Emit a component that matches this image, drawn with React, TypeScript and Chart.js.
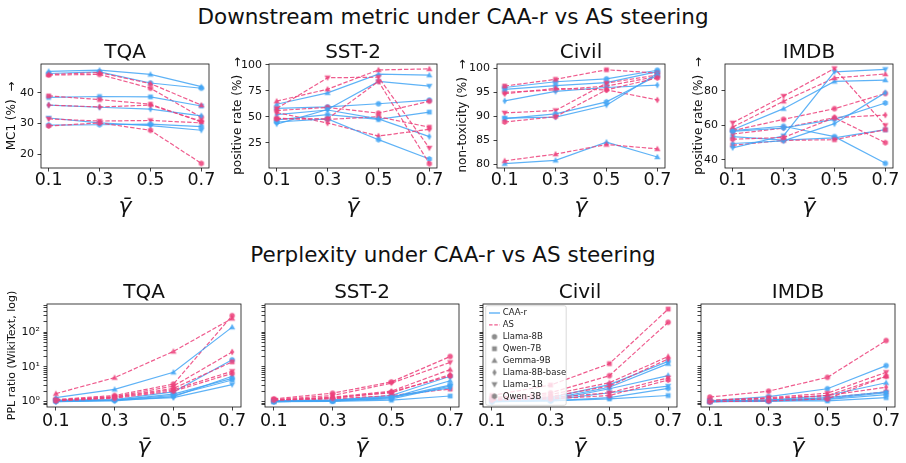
import React, { useEffect, useRef } from 'react';
import { Chart, registerables } from 'chart.js';

Chart.register(...registerables);

const FONT = 'DejaVu Sans';

// ---------- shared categories ----------
const GAMMA = [0.1, 0.3, 0.5, 0.7];
const MODELS = ['Llama-8B', 'Qwen-7B', 'Gemma-9B', 'Llama-8B-base', 'Llama-1B', 'Qwen-3B'];
const MARKERS = ['o', 's', '^', 'd', 'v', 'h'];
const METHODS = ['CAA-r', 'AS'];

// ---------- downstream metric (rows follow MODELS) ----------
const tqaMetricCAA = [
  [46.3, 46.8, 43.2, 41.5],
  [38.5, 38.8, 38.7, 35.7],
  [47.0, 47.4, 46.0, 42.0],
  [36.0, 35.3, 34.7, 32.5],
  [31.8, 30.2, 29.3, 27.8],
  [29.5, 29.6, 29.8, 29.0],
];
const tqaMetricAS = [
  [45.8, 46.0, 41.5, 32.0],
  [39.0, 37.8, 36.3, 30.5],
  [46.0, 46.6, 43.0, 36.0],
  [36.0, 35.4, 36.0, 30.8],
  [31.5, 30.8, 31.0, 30.2],
  [29.2, 30.2, 27.8, 17.0],
];
const sstMetricCAA = [
  [58, 59.5, 62.5, 66],
  [47, 52, 47.5, 54.5],
  [62, 73, 91, 90],
  [52, 56.5, 48, 31],
  [43, 57, 84, 79.5],
  [45, 48, 28, 9.5],
];
const sstMetricAS = [
  [56, 59, 53.5, 65],
  [48.5, 47.5, 50, 40],
  [65, 76.5, 95, 96],
  [54, 44, 31.5, 38],
  [58, 87.5, 88, 20],
  [48, 48, 84, 5],
];
const civilMetricCAA = [
  [96.0, 97.2, 97.8, 99.6],
  [95.6, 96.4, 97.0, 99.3],
  [80.1, 80.8, 84.6, 81.5],
  [93.2, 95.2, 96.0, 96.5],
  [89.6, 89.8, 92.3, 98.9],
  [89.5, 90.5, 93.0, 98.5],
];
const civilMetricAS = [
  [95.0, 95.5, 96.3, 98.3],
  [96.3, 97.7, 99.7, 99.0],
  [80.7, 82.1, 84.1, 83.2],
  [94.7, 95.8, 95.5, 93.4],
  [90.7, 91.2, 96.9, 98.6],
  [88.8, 89.9, 95.5, 98.0],
];
const imdbMetricCAA = [
  [57, 59.5, 53.5, 38],
  [53.5, 51.5, 52.8, 57.5],
  [57.5, 69.7, 85.5, 86.3],
  [49.5, 51, 61, 79],
  [47, 54, 91, 92.5],
  [56.5, 58.5, 63.5, 73],
];
const imdbMetricAS = [
  [57, 63.5, 69.7, 78.5],
  [48.5, 51.3, 51.7, 57.5],
  [59, 74, 87.5, 89.8],
  [55, 58.5, 64.5, 66],
  [61.5, 77, 93, 60],
  [52, 53, 64.5, 50],
];

// ---------- perplexity ratio (rows follow MODELS) ----------
const tqaPplCAA = [
  [1.1, 1.15, 1.9, 16],
  [1.05, 1.1, 1.5, 4.2],
  [1.3, 2.25, 7.0, 140],
  [1.0, 1.05, 1.4, 5.4],
  [1.05, 1.1, 1.3, 3.1],
  [1.0, 1.1, 1.65, 4.7],
];
const tqaPplAS = [
  [1.15, 1.5, 3.2, 300],
  [1.1, 1.35, 2.4, 14],
  [1.7, 4.9, 28, 250],
  [1.1, 1.4, 2.8, 27],
  [1.1, 1.3, 2.2, 7.5],
  [1.05, 1.25, 2.0, 6.5],
];
const sstPplCAA = [
  [1.05, 1.1, 1.5, 5.4],
  [1.0, 1.02, 1.1, 1.45],
  [1.0, 1.05, 1.3, 4.0],
  [1.05, 1.1, 1.4, 2.5],
  [1.0, 1.05, 1.2, 2.8],
  [1.0, 1.05, 1.3, 3.0],
];
const sstPplAS = [
  [1.2, 1.75, 3.7, 20],
  [1.05, 1.2, 1.5, 2.3],
  [1.1, 1.35, 2.0, 8.4],
  [1.1, 1.3, 1.8, 6.0],
  [1.15, 1.5, 3.4, 13.5],
  [1.1, 1.25, 1.9, 5.5],
];
const civilPplCAA = [
  [1.1, 1.3, 3.1, 14.5],
  [1.0, 1.05, 1.2, 1.5],
  [1.05, 1.2, 2.6, 12.4],
  [1.0, 1.1, 2.35, 5.6],
  [1.0, 1.1, 1.8, 2.8],
  [1.0, 1.05, 1.3, 2.4],
];
const civilPplAS = [
  [1.3, 1.8, 5.6, 193],
  [1.5, 3.0, 12.4, 463],
  [1.2, 1.6, 3.5, 20],
  [1.15, 1.4, 2.8, 17],
  [1.1, 1.3, 1.8, 4.85],
  [1.1, 1.2, 1.5, 4.2],
];
const imdbPplCAA = [
  [1.05, 1.4, 2.35, 10.9],
  [1.0, 1.05, 1.05, 1.3],
  [1.0, 1.1, 1.5, 3.5],
  [1.0, 1.05, 1.3, 1.9],
  [1.05, 1.1, 1.2, 1.8],
  [1.0, 1.02, 1.15, 1.6],
];
const imdbPplAS = [
  [1.35, 2.0, 5.0, 57.5],
  [1.0, 1.1, 1.3, 1.9],
  [1.05, 1.25, 1.5, 5.4],
  [1.05, 1.2, 1.5, 2.6],
  [1.1, 1.3, 1.75, 7.0],
  [1.0, 1.05, 1.2, 5.4],
];

// ---------- tick values ----------
const tqaYTicks = [20, 30, 40];
const sstYTicks = [25, 50, 75, 100];
const civilYTicks = [80, 85, 90, 95, 100];
const imdbYTicks = [40, 60, 80];
const pplMajorTicks = [1, 10, 100];
const pplMajorLabels = ['10⁰', '10¹', '10²'];
const pplMinorTicks = [0.8, 0.9, 2, 3, 4, 5, 6, 7, 8, 9, 20, 30, 40, 50, 60, 70, 80, 90, 200, 300, 400, 500, 600];

// ---------- styles ----------
const CAA_COL = 'rgba(66,165,245,0.85)';
const AS_COL = 'rgba(236,64,122,0.85)';
const GRAY = 'rgba(128,128,128,0.9)';
const INK = '#111';

const markerCache = new Map<string, HTMLCanvasElement>();
function marker(shape: string, color: string): HTMLCanvasElement {
  const key = shape + color;
  const hit = markerCache.get(key);
  if (hit) return hit;
  const c = document.createElement('canvas');
  c.width = 10;
  c.height = 10;
  const g = c.getContext('2d')!;
  g.fillStyle = color;
  g.beginPath();
  const cx = 5, cy = 5;
  if (shape === 'o') g.arc(cx, cy, 2.7, 0, Math.PI * 2);
  else if (shape === 's') g.rect(cx - 2.4, cy - 2.4, 4.8, 4.8);
  else if (shape === '^') { g.moveTo(cx, cy - 3.3); g.lineTo(cx + 3.1, cy + 2.2); g.lineTo(cx - 3.1, cy + 2.2); }
  else if (shape === 'v') { g.moveTo(cx, cy + 3.3); g.lineTo(cx + 3.1, cy - 2.2); g.lineTo(cx - 3.1, cy - 2.2); }
  else if (shape === 'd') { g.moveTo(cx, cy - 3.4); g.lineTo(cx + 2.1, cy); g.lineTo(cx, cy + 3.4); g.lineTo(cx - 2.1, cy); }
  else if (shape === 'h') {
    for (let k = 0; k < 6; k++) {
      const a = -Math.PI / 2 + (k * Math.PI) / 3;
      const px = cx + 3 * Math.cos(a), py = cy + 3 * Math.sin(a);
      if (k === 0) g.moveTo(px, py); else g.lineTo(px, py);
    }
  }
  g.closePath();
  g.fill();
  markerCache.set(key, c);
  return c;
}

const framePlugin = {
  id: 'frame',
  afterDatasetsDraw(chart: any) {
    const { ctx, chartArea: a } = chart;
    ctx.save();
    ctx.strokeStyle = INK;
    ctx.lineWidth = 0.8;
    ctx.strokeRect(a.left, a.top, a.right - a.left, a.bottom - a.top);
    ctx.restore();
  },
};

const legendPlugin = {
  id: 'mplLegend',
  afterDatasetsDraw(chart: any) {
    const { ctx, chartArea: a } = chart;
    const x0 = a.left + 2.7, y0 = a.top + 1.7, w = 80.5, h = a.bottom - a.top - 3.4;
    ctx.save();
    ctx.beginPath();
    if (ctx.roundRect) ctx.roundRect(x0, y0, w, h, 2); else ctx.rect(x0, y0, w, h);
    ctx.fillStyle = 'rgba(255,255,255,0.8)';
    ctx.fill();
    ctx.strokeStyle = 'rgba(204,204,204,0.9)';
    ctx.lineWidth = 0.8;
    ctx.stroke();
    const entries: { label: string; kind: string; col?: string; dash?: number[]; shape?: string }[] = [
      { label: METHODS[0], kind: 'line', col: CAA_COL, dash: [] },
      { label: METHODS[1], kind: 'line', col: AS_COL, dash: [3.5, 1.8] },
      ...MODELS.map((m, i) => ({ label: m, kind: 'marker', shape: MARKERS[i] })),
    ];
    entries.forEach((e, i) => {
      const cy = y0 + 7.3 + i * 11.9;
      const hx0 = x0 + 3.3, hx1 = x0 + 14.3;
      if (e.kind === 'line') {
        ctx.beginPath();
        ctx.setLineDash(e.dash!);
        ctx.strokeStyle = e.col!;
        ctx.lineWidth = 1.4;
        ctx.moveTo(hx0, cy);
        ctx.lineTo(hx1, cy);
        ctx.stroke();
        ctx.setLineDash([]);
      } else {
        const m = marker(e.shape!, GRAY);
        ctx.drawImage(m, (hx0 + hx1) / 2 - m.width / 2, cy - m.height / 2);
      }
      ctx.fillStyle = '#222';
      ctx.font = `8.5px "${FONT}"`;
      ctx.textBaseline = 'middle';
      ctx.textAlign = 'left';
      ctx.fillText(e.label, x0 + 17, cy);
    });
    ctx.restore();
  },
};

type PanelCfg = {
  title: string;
  left: number; top: number; width: number; height: number;
  axisW: number; padR: number; xH: number; xTickPad: number;
  log: boolean; yMin: number; yMax: number;
  yTicks: number[]; yLabel: (v: number) => string;
  yTitle: string | null; yTitleSize: number; yTitlePad: number;
  caa: number[][]; as: number[][]; legend: boolean;
};

const TOP_LEFTS = [41, 269, 497, 725];
const BOT_LEFTS = [47, 265, 483, 701];
const TOP_TITLE_PADS = [7.8, 5.3, 2.8, 10.8];

const topPanel = (i: number, title: string, yMin: number, yMax: number, yTicks: number[], yTitle: string, caa: number[][], as: number[][]): PanelCfg => ({
  title, left: TOP_LEFTS[i] - 44, top: 42, width: 224, height: 178,
  axisW: 44, padR: 12, xH: 52, xTickPad: 0,
  log: false, yMin, yMax, yTicks, yLabel: (v) => String(v),
  yTitle, yTitleSize: 12, yTitlePad: TOP_TITLE_PADS[i],
  caa, as, legend: false,
});

const pplTicks = [...pplMajorTicks, ...pplMinorTicks];
const pplLabel = (v: number) => {
  const k = pplMajorTicks.indexOf(v);
  return k >= 0 ? pplMajorLabels[k] : '';
};

const botPanel = (i: number, title: string, caa: number[][], as: number[][]): PanelCfg => ({
  title, left: BOT_LEFTS[i] - 44, top: 282, width: 249, height: 178,
  axisW: 44, padR: 11, xH: 53, xTickPad: 1.75,
  log: true, yMin: 0.72, yMax: 650, yTicks: pplTicks,
  yLabel: i === 0 ? pplLabel : () => '',
  yTitle: i === 0 ? 'PPL ratio (WikiText, log)' : null, yTitleSize: 11, yTitlePad: 2.4,
  caa, as, legend: i === 2,
});

// The y titles are drawn rotated a quarter turn, so "→" shows as an upward arrow.
const PANELS: PanelCfg[] = [
  topPanel(0, 'TQA', 15.5, 49.4, tqaYTicks, 'MC1 (%)  →', tqaMetricCAA, tqaMetricAS),
  topPanel(1, 'SST-2', 0.8, 100.7, sstYTicks, 'positive rate (%)  →', sstMetricCAA, sstMetricAS),
  topPanel(2, 'Civil', 79.2, 100.9, civilYTicks, 'non-toxicity (%)  →', civilMetricCAA, civilMetricAS),
  topPanel(3, 'IMDB', 35.3, 95.6, imdbYTicks, 'positive rate (%)  →', imdbMetricCAA, imdbMetricAS),
  botPanel(0, 'TQA', tqaPplCAA, tqaPplAS),
  botPanel(1, 'SST-2', sstPplCAA, sstPplAS),
  botPanel(2, 'Civil', civilPplCAA, civilPplAS),
  botPanel(3, 'IMDB', imdbPplCAA, imdbPplAS),
];

function Panel({ cfg }: { cfg: PanelCfg }) {
  const ref = useRef<HTMLCanvasElement>(null);
  useEffect(() => {
    const datasets: any[] = [];
    MODELS.forEach((m, i) => {
      [cfg.caa[i], cfg.as[i]].forEach((vals, k) => {
        const col = k === 0 ? CAA_COL : AS_COL;
        datasets.push({
          label: `${METHODS[k]} ${m}`,
          data: GAMMA.map((g, j) => ({ x: g, y: vals[j] })),
          borderColor: col,
          backgroundColor: col,
          borderWidth: 1.2,
          borderDash: k === 0 ? [] : [4.4, 1.9],
          pointStyle: marker(MARKERS[i], col),
          pointRadius: 3,
          pointHoverRadius: 3,
          tension: 0,
          fill: false,
          order: 100 - datasets.length,
        });
      });
    });
    const tickGrid = {
      display: true, drawOnChartArea: false, drawTicks: true,
      tickLength: 3.5, tickColor: INK, tickWidth: 0.8,
    };
    const chart = new Chart(ref.current!, {
      type: 'line',
      data: { datasets },
      options: {
        animation: false,
        responsive: false,
        events: [],
        layout: { padding: { left: 0, right: cfg.padR, top: 0, bottom: 0 } },
        plugins: {
          legend: { display: false },
          tooltip: { enabled: false },
          title: {
            display: true, text: cfg.title, color: INK, fullSize: false,
            font: { family: FONT, size: 20, weight: 'normal', lineHeight: 1 },
            padding: { top: 1, bottom: 1 },
          },
        },
        scales: {
          x: {
            type: 'linear', min: 0.07, max: 0.73,
            afterBuildTicks: (s: any) => { s.ticks = GAMMA.map((v) => ({ value: v })); },
            ticks: {
              autoSkip: false, maxRotation: 0, padding: cfg.xTickPad, color: INK,
              font: { family: FONT, size: 17.5, lineHeight: 1 },
              callback: (v: any) => Number(v).toFixed(1),
            },
            grid: tickGrid as any,
            border: { display: false },
            title: {
              display: true, text: 'γ̄', color: INK,
              font: { family: FONT, size: 22, style: 'italic', lineHeight: 1.2 },
              padding: { top: 0, bottom: 0 },
            },
            afterFit: (s: any) => { s.height = cfg.xH; },
          },
          y: {
            type: cfg.log ? 'logarithmic' : 'linear', min: cfg.yMin, max: cfg.yMax,
            afterBuildTicks: (s: any) => { s.ticks = cfg.yTicks.map((v) => ({ value: v })); },
            ticks: {
              autoSkip: false, padding: 3.5, color: INK,
              font: { family: FONT, size: 11, lineHeight: 1.2 },
              callback: (v: any) => cfg.yLabel(Number(v)),
            },
            grid: tickGrid as any,
            border: { display: false },
            title: cfg.yTitle
              ? {
                  display: true, text: cfg.yTitle, color: INK,
                  font: { family: FONT, size: cfg.yTitleSize, lineHeight: 1.2 },
                  padding: { top: cfg.yTitlePad, bottom: 0 },
                }
              : { display: false },
            afterFit: (s: any) => { s.width = cfg.axisW; },
          },
        },
      } as any,
      plugins: cfg.legend ? [framePlugin, legendPlugin] : [framePlugin],
    });
    return () => chart.destroy();
  }, [cfg]);
  return (
    <div style={{ position: 'absolute', left: cfg.left, top: cfg.top, width: cfg.width, height: cfg.height }}>
      <canvas ref={ref} width={cfg.width} height={cfg.height} style={{ width: cfg.width, height: cfg.height, display: 'block' }} />
    </div>
  );
}

const SUPTITLES = ['Downstream metric under CAA-r vs AS steering', 'Perplexity under CAA-r vs AS steering'];
const SUPTITLE_TOPS = [5.7, 243.7];

export default function App() {
  useEffect(() => {
    document.body.style.margin = '0';
  }, []);
  return (
    <div style={{ position: 'absolute', left: 0, top: 0, width: 906, height: 463, overflow: 'hidden', background: '#fff', fontFamily: FONT }}>
      {SUPTITLES.map((t, i) => (
        <div key={t} style={{ position: 'absolute', left: 0, top: SUPTITLE_TOPS[i], width: 906, textAlign: 'center', fontSize: 21.5, lineHeight: '21.5px', color: INK, whiteSpace: 'nowrap' }}>
          {t}
        </div>
      ))}
      {PANELS.map((p, i) => (
        <Panel key={i} cfg={p} />
      ))}
    </div>
  );
}
